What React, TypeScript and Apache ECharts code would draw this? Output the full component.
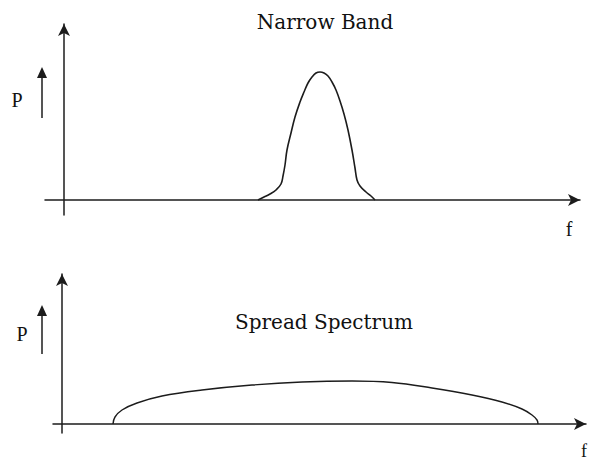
import React, { useEffect, useRef } from "react";
import * as echarts from "echarts";

// Narrow band spectrum: [frequency offset, power] (arbitrary units)
const narrowBandF = [194, 200, 206, 212, 217, 219, 221, 223, 227, 231, 236, 240, 244, 248, 252, 256, 260, 264, 268, 272, 276, 280, 284, 288, 291, 293, 296, 302, 307, 311];
const narrowBandP = [0, 3, 6, 10, 16, 24, 35, 50, 67, 83, 98, 108, 117, 123, 127, 128, 127, 124, 118, 110, 99, 86, 70, 50, 32, 20, 14, 8, 4, 0];

// Spread spectrum: [frequency offset, power]
const spreadF = [51, 53, 60, 75, 100, 140, 190, 240, 290, 330, 370, 410, 440, 460, 470, 475, 476];
const spreadP = [0, 7, 14, 21, 28, 34, 39, 42, 43, 41.5, 36, 29, 22, 15, 9, 4, 0];

const titles = ["Narrow Band", "Spread Spectrum"];
const axisNames = ["P", "f"];

const LINE = "#1c1c1c";

export default function App() {
  const ref = useRef<HTMLDivElement>(null);
  useEffect(() => {
    if (!ref.current) return;
    const chart = echarts.init(ref.current, null, { renderer: "svg" });
    const axisLine = {
      onZero: true,
      symbol: ["none", "arrow"],
      symbolSize: [9, 12],
      lineStyle: { color: LINE, width: 1.5 },
    };
    const hidden = {
      axisTick: { show: false },
      axisLabel: { show: false },
      splitLine: { show: false },
    };
    const serif = "Liberation Serif";
    const smallArrow = (yTop: number, yBottom: number) => [
      { type: "line", shape: { x1: 42, y1: yBottom, x2: 42, y2: yTop + 8 }, style: { stroke: LINE, lineWidth: 1.5 } },
      { type: "polygon", shape: { points: [[37, yTop + 11], [47, yTop + 11], [42, yTop]] }, style: { fill: LINE } },
    ];
    const label = (text: string, x: number, y: number, size: number, family: string) => ({
      type: "text",
      x,
      y,
      style: { text, font: `${size}px '${family}'`, fill: "#111", textAlign: "center", textVerticalAlign: "middle" },
    });
    chart.setOption({
      animation: false,
      backgroundColor: "#ffffff",
      grid: [
        { left: 45, width: 535, top: 24, height: 191 },
        { left: 53, width: 533, top: 274, height: 159 },
      ],
      xAxis: [
        { type: "value", gridIndex: 0, min: -19, max: 516, axisLine, ...hidden },
        { type: "value", gridIndex: 1, min: -9, max: 524, axisLine, ...hidden },
      ],
      yAxis: [
        { type: "value", gridIndex: 0, min: -15, max: 176, axisLine, ...hidden },
        { type: "value", gridIndex: 1, min: -9, max: 150, axisLine, ...hidden },
      ],
      series: [
        {
          type: "line",
          xAxisIndex: 0,
          yAxisIndex: 0,
          data: narrowBandF.map((f, i) => [f, narrowBandP[i]]),
          showSymbol: false,
          smooth: 0.4,
          lineStyle: { color: LINE, width: 1.6 },
        },
        {
          type: "line",
          xAxisIndex: 1,
          yAxisIndex: 1,
          data: spreadF.map((f, i) => [f, spreadP[i]]),
          showSymbol: false,
          smooth: 0.4,
          lineStyle: { color: LINE, width: 1.4 },
        },
      ],
      graphic: [
        label(titles[0], 325, 22, 20, "DejaVu Serif"),
        label(titles[1], 324, 322, 20, "DejaVu Serif"),
        label(axisNames[0], 17, 100, 20, serif),
        label(axisNames[0], 22, 334, 20, serif),
        label(axisNames[1], 569, 229, 20, serif),
        label(axisNames[1], 584, 451, 18, serif),
        ...smallArrow(67, 118),
        ...smallArrow(305, 354),
      ],
    });
    return () => chart.dispose();
  }, []);
  return <div ref={ref} style={{ width: 590, height: 462, position: "absolute", left: 0, top: 0 }} />;
}
